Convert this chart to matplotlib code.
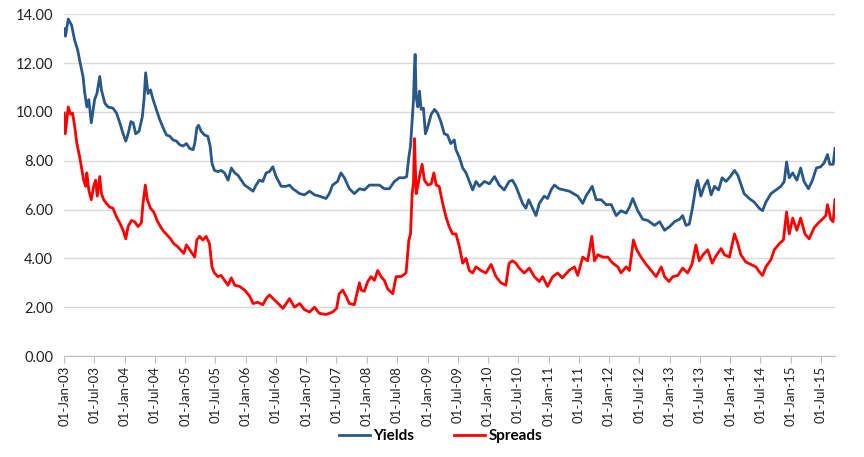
import pandas as pd
import matplotlib
matplotlib.use("Agg")
import matplotlib.pyplot as plt
import matplotlib.dates as mdates

plt.rcParams["font.family"] = ["Lato", "DejaVu Sans"]

# readings (date, value)
yield_dates = [
    "2003-01-01", "2003-01-08", "2003-01-25", "2003-02-14", "2003-03-04", "2003-03-24", "2003-04-04",
    "2003-04-24", "2003-05-04", "2003-05-17", "2003-05-29", "2003-06-13", "2003-07-03", "2003-07-17",
    "2003-08-03", "2003-08-13", "2003-09-03", "2003-09-22", "2003-10-22", "2003-11-12", "2003-12-02",
    "2003-12-22", "2004-01-07", "2004-01-21", "2004-02-07", "2004-02-21", "2004-03-07", "2004-03-27",
    "2004-04-16", "2004-04-26", "2004-05-06", "2004-05-20", "2004-06-04", "2004-06-20", "2004-07-09",
    "2004-07-29", "2004-08-19", "2004-09-09", "2004-09-29", "2004-10-18", "2004-11-08", "2004-11-28",
    "2004-12-18", "2005-01-07", "2005-01-27", "2005-02-16", "2005-02-26", "2005-03-11", "2005-03-21",
    "2005-04-06", "2005-04-26", "2005-05-16", "2005-05-30", "2005-06-10", "2005-06-25", "2005-07-16",
    "2005-08-05", "2005-08-25", "2005-09-15", "2005-10-05", "2005-10-25", "2005-11-14", "2005-12-04",
    "2005-12-24", "2006-01-14", "2006-02-13", "2006-03-03", "2006-03-23", "2006-04-13", "2006-05-03",
    "2006-05-23", "2006-06-12", "2006-07-02", "2006-08-02", "2006-09-01", "2006-09-21", "2006-10-11",
    "2006-11-21", "2006-12-20", "2007-01-20", "2007-02-19", "2007-03-19", "2007-04-29", "2007-05-19",
    "2007-06-08", "2007-07-08", "2007-07-28", "2007-08-18", "2007-09-17", "2007-10-17", "2007-11-17",
    "2007-12-16", "2008-01-16", "2008-02-15", "2008-03-16", "2008-04-15", "2008-05-15", "2008-06-15",
    "2008-07-14", "2008-08-14", "2008-08-28", "2008-09-10", "2008-09-20", "2008-09-30", "2008-10-08",
    "2008-10-14", "2008-10-18", "2008-10-24", "2008-11-03", "2008-11-13", "2008-11-23", "2008-12-07",
    "2008-12-19", "2009-01-03", "2009-01-23", "2009-02-12", "2009-03-02", "2009-03-22", "2009-04-12",
    "2009-05-01", "2009-05-21", "2009-06-11", "2009-06-21", "2009-07-11", "2009-08-01", "2009-08-21",
    "2009-09-10", "2009-09-30", "2009-10-20", "2009-11-10", "2009-12-10", "2010-01-09", "2010-02-09",
    "2010-03-09", "2010-04-08", "2010-05-08", "2010-05-28", "2010-06-18", "2010-07-08", "2010-07-28",
    "2010-08-17", "2010-09-03", "2010-09-27", "2010-10-17", "2010-11-06", "2010-12-06", "2010-12-26",
    "2011-01-16", "2011-02-05", "2011-03-05", "2011-04-05", "2011-05-06", "2011-06-26", "2011-07-26",
    "2011-08-15", "2011-09-21", "2011-10-15", "2011-11-14", "2011-12-14", "2012-01-14", "2012-02-13",
    "2012-03-13", "2012-04-13", "2012-05-03", "2012-05-23", "2012-06-22", "2012-07-22", "2012-08-22",
    "2012-10-01", "2012-11-01", "2012-12-01", "2012-12-31", "2013-01-30", "2013-03-01", "2013-03-20",
    "2013-04-09", "2013-04-29", "2013-05-19", "2013-06-08", "2013-06-18", "2013-07-08", "2013-07-28",
    "2013-08-18", "2013-09-08", "2013-09-28", "2013-10-23", "2013-11-13", "2013-12-07", "2014-01-01",
    "2014-01-27", "2014-02-16", "2014-03-06", "2014-03-26", "2014-04-26", "2014-05-26", "2014-06-25",
    "2014-07-15", "2014-08-04", "2014-09-04", "2014-10-04", "2014-11-03", "2014-11-23", "2014-12-07",
    "2014-12-23", "2015-01-13", "2015-02-07", "2015-03-02", "2015-03-22", "2015-04-18", "2015-05-12",
    "2015-06-05", "2015-07-01", "2015-07-21", "2015-08-11", "2015-08-25", "2015-09-14", "2015-09-25",
]
yields = [
    13.4, 13.1, 13.8, 13.55, 12.95, 12.5, 12.1,
    11.45, 10.8, 10.2, 10.5, 9.55, 10.5, 10.75,
    11.45, 10.9, 10.35, 10.2, 10.15, 9.95, 9.55,
    9.1, 8.8, 9.1, 9.6, 9.55, 9.1, 9.2,
    9.8, 10.5, 11.6, 10.75, 10.9, 10.5, 10.1,
    9.7, 9.35, 9.05, 9.0, 8.85, 8.8, 8.65,
    8.6, 8.7, 8.5, 8.45, 8.7, 9.35, 9.45,
    9.2, 9.05, 9.0, 8.6, 7.9, 7.6, 7.55,
    7.6, 7.5, 7.2, 7.7, 7.5, 7.4, 7.2,
    7.0, 6.9, 6.75, 7.0, 7.2, 7.15, 7.5,
    7.55, 7.75, 7.35, 6.95, 6.95, 7.0, 6.85,
    6.65, 6.6, 6.75, 6.6, 6.55, 6.45, 6.65,
    7.0, 7.15, 7.5, 7.3, 6.85, 6.65, 6.85,
    6.8, 7.0, 7.0, 7.0, 6.85, 6.85, 7.15,
    7.3, 7.3, 7.35, 8.15, 8.6, 9.65, 10.5,
    11.85, 12.35, 10.6, 10.2, 10.85, 10.1, 10.15,
    9.1, 9.4, 9.9, 10.1, 9.95, 9.6, 9.1,
    9.05, 8.7, 8.85, 8.45, 8.15, 7.7, 7.5,
    7.15, 6.8, 7.15, 6.95, 7.15, 7.05, 7.35,
    7.0, 6.8, 7.15, 7.2, 6.95, 6.6, 6.25,
    6.05, 6.4, 6.05, 5.75, 6.25, 6.55, 6.45,
    6.8, 7.0, 6.85, 6.8, 6.75, 6.55, 6.25,
    6.55, 6.95, 6.4, 6.4, 6.2, 6.2, 5.75,
    5.95, 5.85, 6.1, 6.45, 5.95, 5.6, 5.55,
    5.35, 5.5, 5.15, 5.3, 5.5, 5.6, 5.75,
    5.35, 5.4, 6.1, 6.95, 7.2, 6.55, 6.95,
    7.2, 6.6, 6.95, 6.8, 7.3, 7.15, 7.35,
    7.6, 7.4, 7.05, 6.65, 6.45, 6.3, 6.05,
    5.95, 6.3, 6.65, 6.8, 6.95, 7.15, 7.95,
    7.3, 7.5, 7.2, 7.7, 7.15, 6.85, 7.2,
    7.7, 7.75, 7.9, 8.25, 7.85, 7.85, 8.5,
]

spread_dates = [
    "2003-01-01", "2003-01-07", "2003-01-25", "2003-02-08", "2003-02-20", "2003-03-04", "2003-03-18",
    "2003-04-04", "2003-04-14", "2003-04-28", "2003-05-10", "2003-05-17", "2003-05-29", "2003-06-13",
    "2003-06-27", "2003-07-09", "2003-07-19", "2003-08-03", "2003-08-13", "2003-08-27", "2003-09-12",
    "2003-10-02", "2003-10-22", "2003-11-12", "2003-12-02", "2003-12-22", "2004-01-07", "2004-01-21",
    "2004-02-10", "2004-03-01", "2004-03-21", "2004-04-10", "2004-04-20", "2004-05-04", "2004-05-16",
    "2004-06-04", "2004-06-24", "2004-07-14", "2004-08-03", "2004-08-23", "2004-09-13", "2004-10-03",
    "2004-10-23", "2004-11-12", "2004-12-02", "2004-12-22", "2005-01-07", "2005-02-01", "2005-02-26",
    "2005-03-11", "2005-03-27", "2005-04-16", "2005-05-06", "2005-05-26", "2005-06-10", "2005-06-25",
    "2005-07-16", "2005-08-05", "2005-08-25", "2005-09-15", "2005-10-05", "2005-10-25", "2005-11-24",
    "2005-12-24", "2006-01-24", "2006-02-13", "2006-03-13", "2006-04-13", "2006-05-03", "2006-05-23",
    "2006-06-22", "2006-07-22", "2006-08-12", "2006-09-01", "2006-09-21", "2006-10-21", "2006-11-21",
    "2006-12-20", "2007-01-20", "2007-02-19", "2007-03-19", "2007-04-29", "2007-06-08", "2007-07-02",
    "2007-07-18", "2007-08-08", "2007-08-28", "2007-09-17", "2007-10-17", "2007-11-17", "2007-11-27",
    "2007-12-16", "2008-01-06", "2008-01-26", "2008-02-15", "2008-03-06", "2008-03-26", "2008-04-15",
    "2008-05-05", "2008-06-05", "2008-06-25", "2008-07-25", "2008-08-24", "2008-09-10", "2008-09-20",
    "2008-09-30", "2008-10-08", "2008-10-14", "2008-10-24", "2008-11-03", "2008-11-13", "2008-11-29",
    "2008-12-13", "2009-01-03", "2009-01-23", "2009-02-08", "2009-02-22", "2009-03-12", "2009-04-02",
    "2009-04-22", "2009-05-11", "2009-06-01", "2009-06-21", "2009-07-11", "2009-08-01", "2009-08-21",
    "2009-09-10", "2009-09-30", "2009-10-20", "2009-11-20", "2009-12-19", "2010-01-19", "2010-02-18",
    "2010-03-19", "2010-04-18", "2010-05-08", "2010-05-28", "2010-06-18", "2010-07-08", "2010-08-07",
    "2010-09-07", "2010-10-07", "2010-11-06", "2010-11-26", "2010-12-26", "2011-01-26", "2011-02-25",
    "2011-03-25", "2011-05-04", "2011-06-06", "2011-06-26", "2011-07-26", "2011-08-25", "2011-09-19",
    "2011-10-05", "2011-10-25", "2011-11-24", "2011-12-24", "2012-01-24", "2012-02-23", "2012-03-13",
    "2012-04-13", "2012-05-03", "2012-05-27", "2012-06-16", "2012-07-12", "2012-08-12", "2012-09-11",
    "2012-10-11", "2012-11-11", "2012-12-01", "2012-12-27", "2013-01-20", "2013-02-19", "2013-03-20",
    "2013-04-19", "2013-05-15", "2013-06-08", "2013-06-28", "2013-07-22", "2013-08-18", "2013-09-14",
    "2013-10-07", "2013-11-07", "2013-11-27", "2013-12-27", "2014-01-27", "2014-02-16", "2014-03-06",
    "2014-04-05", "2014-05-05", "2014-06-05", "2014-06-25", "2014-07-15", "2014-08-04", "2014-09-04",
    "2014-09-24", "2014-10-24", "2014-11-18", "2014-12-07", "2014-12-23", "2015-01-13", "2015-02-07",
    "2015-03-02", "2015-03-28", "2015-04-22", "2015-05-22", "2015-06-17", "2015-07-11", "2015-08-01",
    "2015-08-11", "2015-08-31", "2015-09-14", "2015-09-25",
]
spreads = [
    9.95, 9.1, 10.2, 9.9, 9.95, 9.45, 8.7,
    8.15, 7.75, 7.2, 6.95, 7.5, 6.8, 6.4,
    6.95, 7.2, 6.55, 7.35, 6.65, 6.4, 6.25,
    6.1, 6.05, 5.7, 5.45, 5.15, 4.8, 5.3,
    5.55, 5.5, 5.3, 5.45, 6.25, 7.0, 6.4,
    6.05, 5.9, 5.55, 5.3, 5.1, 4.95, 4.8,
    4.6, 4.5, 4.35, 4.2, 4.55, 4.3, 4.05,
    4.75, 4.9, 4.75, 4.9, 4.6, 3.65, 3.4,
    3.25, 3.3, 3.1, 2.9, 3.2, 2.9, 2.85,
    2.7, 2.45, 2.15, 2.2, 2.1, 2.35, 2.5,
    2.3, 2.1, 1.95, 2.15, 2.35, 2.0, 2.15,
    1.9, 1.8, 2.0, 1.75, 1.7, 1.8, 1.95,
    2.55, 2.7, 2.45, 2.15, 2.1, 3.0, 2.7,
    2.65, 3.05, 3.25, 3.1, 3.5, 3.25, 3.1,
    2.75, 2.55, 3.25, 3.25, 3.4, 4.75, 5.0,
    6.65, 7.1, 8.9, 6.65, 6.95, 7.35, 7.85,
    7.2, 7.0, 7.05, 7.5, 7.0, 6.95, 6.25,
    5.7, 5.3, 5.0, 5.0, 4.5, 3.8, 4.0,
    3.5, 3.4, 3.65, 3.5, 3.4, 3.75, 3.25,
    3.0, 2.9, 3.8, 3.9, 3.8, 3.6, 3.4,
    3.6, 3.25, 3.05, 3.25, 2.85, 3.25, 3.4,
    3.2, 3.5, 3.65, 3.3, 4.05, 3.9, 4.9,
    3.9, 4.15, 4.05, 4.05, 3.8, 3.65, 3.4,
    3.65, 3.5, 4.75, 4.35, 4.05, 3.75, 3.5,
    3.25, 3.65, 3.25, 3.05, 3.25, 3.3, 3.6,
    3.4, 3.75, 4.55, 3.9, 4.15, 4.35, 3.8,
    4.1, 4.4, 4.15, 4.05, 5.0, 4.6, 4.15,
    3.85, 3.75, 3.65, 3.45, 3.3, 3.65, 3.95,
    4.35, 4.6, 4.75, 5.9, 5.0, 5.65, 5.15,
    5.65, 5.0, 4.8, 5.25, 5.45, 5.6, 5.75,
    6.2, 5.6, 5.5, 6.4,
]

yield_color = "#285887"
spread_color = "#FF0000"

fig = plt.figure(figsize=(8.64, 4.57), dpi=100)
ax = fig.add_axes([0.0744, 0.221, 0.892, 0.748])

ax.plot(pd.to_datetime(yield_dates), yields, color=yield_color, lw=2, label="Yields")
ax.plot(pd.to_datetime(spread_dates), spreads, color=spread_color, lw=2, label="Spreads")

ax.set_ylim(0, 14)
ax.set_yticks(range(0, 15, 2))
ax.set_yticklabels(["{:.2f}".format(v) for v in range(0, 15, 2)])
ax.set_xlim(pd.Timestamp("2003-01-01"), pd.Timestamp("2015-09-25"))

ax.xaxis.set_major_locator(mdates.MonthLocator(bymonth=[1, 7]))
ax.xaxis.set_major_formatter(mdates.DateFormatter("%d-%b-%y"))

ax.grid(axis="y", color="#D9D9D9", lw=1)
ax.set_axisbelow(True)
for s in ["top", "right", "left"]:
    ax.spines[s].set_visible(False)
ax.spines["bottom"].set_color("#BFBFBF")
ax.tick_params(axis="y", length=0, labelsize=10.5, labelcolor="#222222", pad=8)
ax.tick_params(axis="x", length=5, color="#BFBFBF", labelsize=9.5, labelcolor="#222222",
               labelrotation=90, pad=2)

fig.legend(loc="lower center", bbox_to_anchor=(0.51, 0.0), ncol=2, frameon=False,
           prop={"weight": "bold", "size": 11}, handlelength=2.0, columnspacing=2.6,
           handletextpad=0.25)

fig.savefig("out.png", dpi=100)
